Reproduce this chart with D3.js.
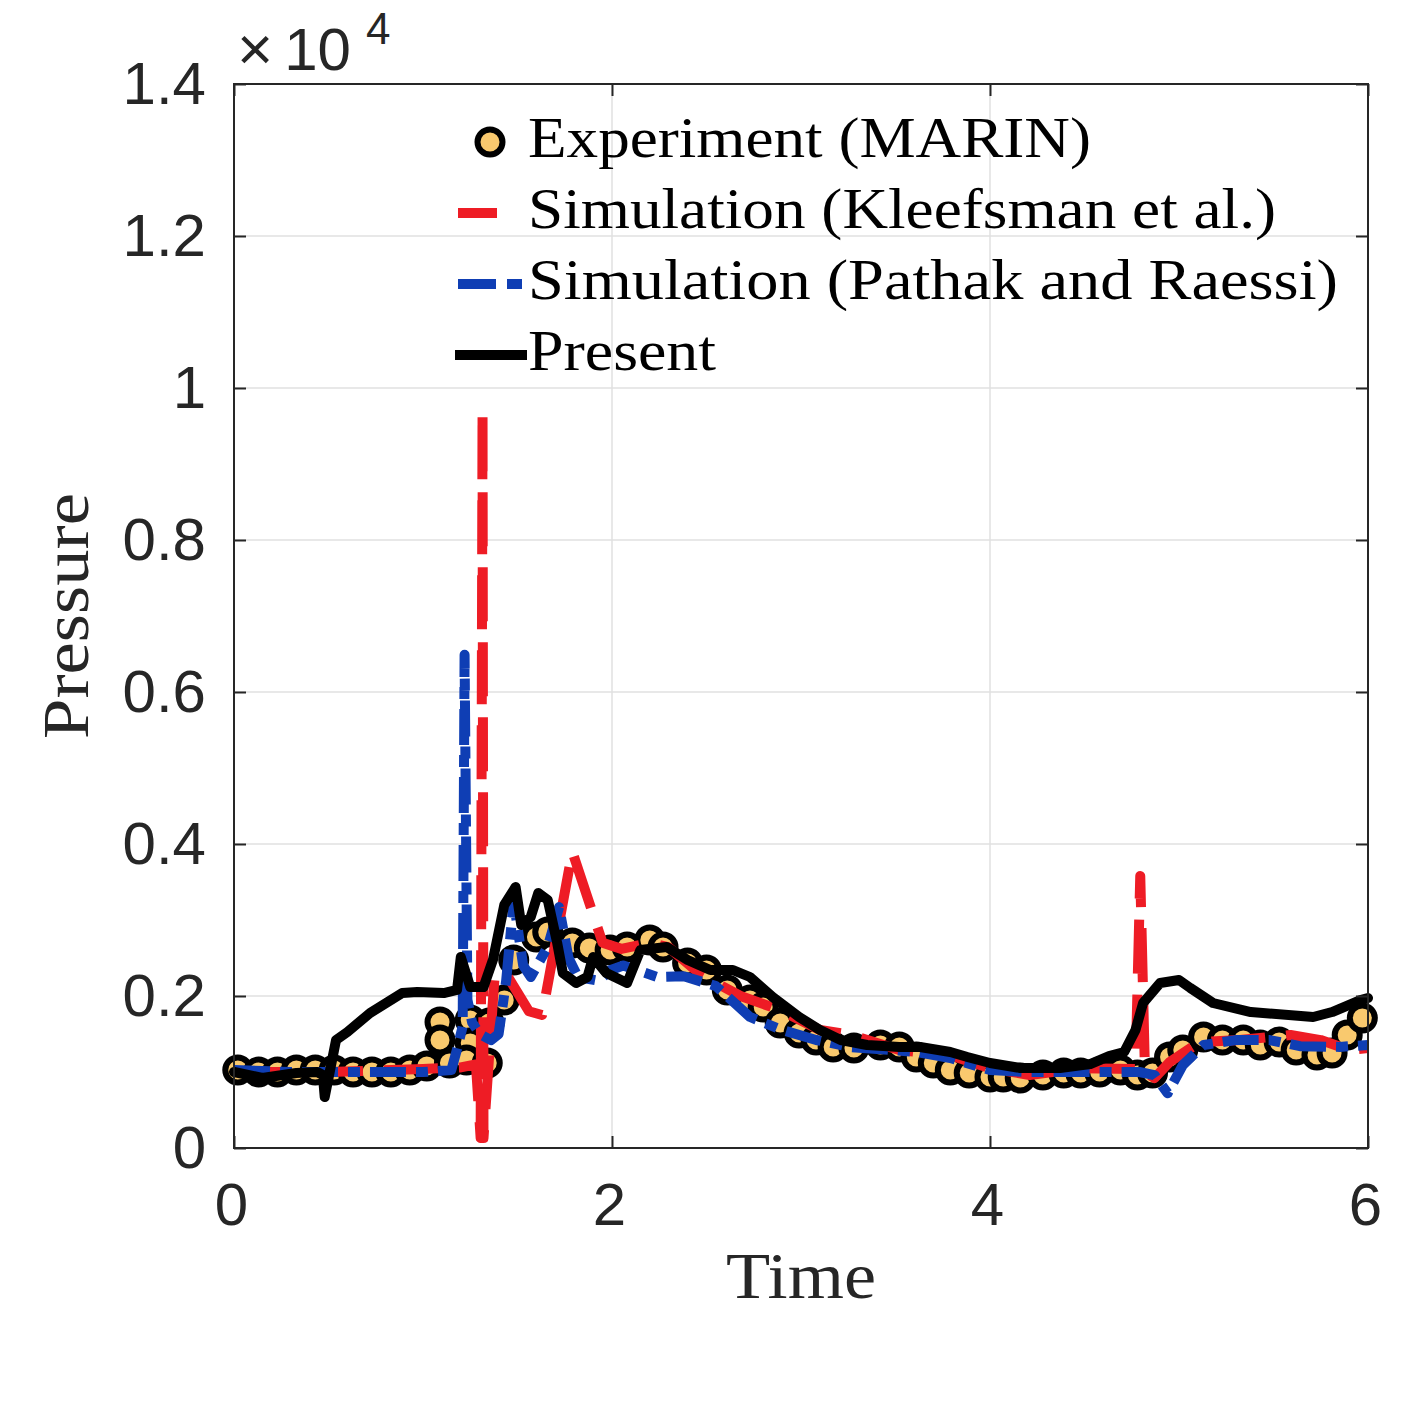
<!DOCTYPE html>
<html>
<head>
<meta charset="utf-8">
<script src="https://cdn.jsdelivr.net/npm/d3@7"></script>
<style>
  html, body { margin: 0; padding: 0; background: #fff; }
  svg { display: block; }
</style>
</head>
<body>
<svg id="chart" width="1417" height="1417"></svg>
<script>
// ---- DATA ----
// experiment (MARIN), pressure in Pa
const expTime = [0.02, 0.13, 0.23, 0.33, 0.43, 0.53, 0.63, 0.73, 0.83, 0.93, 1.02,
  1.09, 1.09, 1.14, 1.25, 1.25, 1.23, 1.34, 1.35, 1.43, 1.48, 1.60, 1.66, 1.79, 1.88,
  1.99, 2.08, 2.20, 2.27, 2.40, 2.50, 2.61, 2.73, 2.80, 2.89, 2.99, 3.08, 3.17, 3.28,
  3.42, 3.52, 3.61, 3.70, 3.79, 3.89, 4.00, 4.07, 4.16, 4.28, 4.39, 4.48, 4.58, 4.69,
  4.78, 4.86, 4.95, 5.02, 5.13, 5.23, 5.34, 5.43, 5.53, 5.62, 5.73, 5.81, 5.89, 5.97];
const expPressure = [1026, 1000, 1000, 1026, 1026, 1026, 1000, 1000, 1000, 1026, 1080,
  1658, 1421, 1118, 1684, 1382, 1158, 1118, 1645, 1947, 2474, 2776, 2842, 2697, 2632,
  2605, 2645, 2737, 2645, 2434, 2342, 2079, 1947, 1855, 1645, 1513, 1421, 1329, 1316,
  1355, 1329, 1197, 1118, 1026, 987, 934, 934, 921, 961, 987, 987, 1000, 1026,
  961, 987, 1197, 1289, 1461, 1421, 1421, 1355, 1395, 1289, 1224, 1250, 1487, 1711];

// simulation (Kleefsman et al.)
const kleefTime = [0.00, 0.50, 1.00, 1.20, 1.28, 1.305, 1.315, 1.32, 1.38, 1.45, 1.56,
  1.63, 1.79, 1.95, 2.05, 2.20, 2.30, 2.47, 2.68, 2.89, 3.10, 3.26, 3.52, 3.79, 4.00,
  4.21, 4.48, 4.77, 4.795, 4.82, 4.87, 4.95, 5.11, 5.32, 5.59, 5.75, 5.90, 6.00];
const kleefPressure = [1000, 1000, 1040, 1060, 1100, 130, 9700, 130, 2300, 2250, 1800,
  1750, 3900, 2700, 2620, 2700, 2640, 2280, 2000, 1815, 1553, 1490, 1290, 1220, 1050,
  960, 1050, 1040, 3580, 1000, 920, 1130, 1395, 1420, 1487, 1420, 1290, 1316];

// simulation (Pathak and Raessi)
const pathakTime = [0.00, 0.30, 0.60, 1.00, 1.15, 1.18, 1.21, 1.22, 1.235, 1.26, 1.30,
  1.36, 1.40, 1.44, 1.48, 1.53, 1.57, 1.66, 1.72, 1.77, 1.82, 1.93, 1.99, 2.06, 2.24,
  2.38, 2.55, 2.73, 2.90, 3.08, 3.26, 3.61, 3.79, 4.00, 4.20, 4.50, 4.79, 4.87, 4.94,
  5.02, 5.13, 5.30, 5.48, 5.64, 5.85, 6.00];
const pathakPressure = [1026, 1000, 1000, 1000, 1026, 1300, 1600, 6490, 1950, 1650, 1500,
  1420, 1500, 2200, 3250, 2400, 2250, 2650, 3170, 2500, 2250, 2200, 2340, 2400, 2250,
  2260, 2130, 1724, 1553, 1421, 1329, 1263, 1184, 1026, 1000, 1000, 1000, 960, 720,
  1090, 1355, 1420, 1420, 1340, 1330, 1355];

// present
const presentTime = [0.00, 0.15, 0.33, 0.44, 0.47, 0.48, 0.54, 0.60, 0.72, 0.89, 0.97,
  1.11, 1.18, 1.20, 1.25, 1.32, 1.37, 1.43, 1.49, 1.52, 1.57, 1.61, 1.66, 1.71, 1.74,
  1.81, 1.87, 1.90, 1.97, 2.08, 2.15, 2.29, 2.40, 2.52, 2.64, 2.73, 2.85, 2.99, 3.10,
  3.21, 3.35, 3.52, 3.63, 3.79, 3.88, 4.00, 4.16, 4.37, 4.53, 4.63, 4.71, 4.77, 4.81,
  4.90, 5.00, 5.06, 5.18, 5.38, 5.71, 5.81, 5.96, 6.00];
const presentPressure = [1000, 921, 987, 1000, 961, 671, 1421, 1526, 1776, 2039, 2053,
  2039, 2079, 2513, 2118, 2118, 2474, 3197, 3434, 2934, 3039, 3355, 3263, 2697, 2303,
  2171, 2250, 2513, 2303, 2171, 2605, 2645, 2474, 2342, 2342, 2250, 1987, 1724, 1553,
  1421, 1355, 1329, 1329, 1263, 1197, 1118, 1053, 1053, 1105, 1210, 1263, 1553, 1908,
  2171, 2211, 2105, 1908, 1789, 1724, 1789, 1947, 1974];

const xTicks = [0, 2, 4, 6];
const yTicks = [0, 2000, 4000, 6000, 8000, 10000, 12000, 14000];
const legendLabels = ["Experiment (MARIN)", "Simulation (Kleefsman et al.)",
  "Simulation (Pathak and Raessi)", "Present"];

// ---- LAYOUT ----
const svg = d3.select("#chart");
const margin = { left: 234, right: 1368, top: 84, bottom: 1148 };
const axisColor = "#262626";
const sansFont = "'Liberation Sans', Arial, Helvetica, sans-serif";
const serifFont = "'Liberation Serif', 'Times New Roman', serif";
const markerFill = "#F9C96E";

const x = d3.scaleLinear().domain([0, 6]).range([margin.left, margin.right]);
const y = d3.scaleLinear().domain([0, 14000]).range([margin.bottom, margin.top]);

// grid
const gridG = svg.append("g").attr("stroke", "#e0e0e0").attr("stroke-width", 1.5);
gridG.selectAll("line.gx")
  .data(xTicks.slice(1, -1))
  .join("line")
  .attr("x1", d => x(d)).attr("x2", d => x(d))
  .attr("y1", margin.top).attr("y2", margin.bottom);
gridG.selectAll("line.gy")
  .data(yTicks.slice(1, -1))
  .join("line")
  .attr("y1", d => y(d)).attr("y2", d => y(d))
  .attr("x1", margin.left).attr("x2", margin.right);

// ---- SERIES ----
const zip = (ts, ps) => ts.map((t, i) => [t, ps[i]]);
const line = d3.line().x(d => x(d[0])).y(d => y(d[1]));

svg.append("g")
  .selectAll("circle")
  .data(zip(expTime, expPressure))
  .join("circle")
  .attr("cx", d => x(d[0]))
  .attr("cy", d => y(d[1]))
  .attr("r", 12.5)
  .attr("fill", markerFill)
  .attr("stroke", "#000")
  .attr("stroke-width", 6);

svg.append("path")
  .datum(zip(kleefTime, kleefPressure))
  .attr("d", line)
  .attr("fill", "none")
  .attr("stroke", "#EE1C25")
  .attr("stroke-width", 10)
  .attr("stroke-dasharray", "54,21")
  .attr("stroke-linejoin", "round");

svg.append("path")
  .datum(zip(pathakTime, pathakPressure))
  .attr("d", line)
  .attr("fill", "none")
  .attr("stroke", "#0F3EB4")
  .attr("stroke-width", 10)
  .attr("stroke-dasharray", "36,10,12,10")
  .attr("stroke-linejoin", "round");

svg.append("path")
  .datum(zip(presentTime, presentPressure))
  .attr("d", line)
  .attr("fill", "none")
  .attr("stroke", "#000")
  .attr("stroke-width", 10)
  .attr("stroke-linejoin", "round")
  .attr("stroke-linecap", "round");

// ---- AXES ----
function styleAxis(g) {
  g.select(".domain").remove();
  g.selectAll(".tick line").attr("stroke", axisColor).attr("stroke-width", 2);
  g.selectAll(".tick text")
    .attr("fill", axisColor)
    .attr("font-family", sansFont)
    .attr("font-size", 60);
}

svg.append("g")
  .attr("transform", `translate(0,${margin.bottom})`)
  .call(d3.axisBottom(x).tickValues(xTicks).tickSize(-12).tickPadding(34).tickFormat(d3.format("d")))
  .call(styleAxis)
  .selectAll(".tick text").attr("dx", -3);
svg.append("g")
  .attr("transform", `translate(0,${margin.top})`)
  .call(d3.axisTop(x).tickValues(xTicks).tickSize(-12).tickFormat(""))
  .call(styleAxis);
svg.append("g")
  .attr("transform", `translate(${margin.left},0)`)
  .call(d3.axisLeft(y).tickValues(yTicks).tickSize(-12).tickPadding(28)
    .tickFormat(d => String(+(d / 1e4).toFixed(1))))
  .call(styleAxis);
svg.append("g")
  .attr("transform", `translate(${margin.right},0)`)
  .call(d3.axisRight(y).tickValues(yTicks).tickSize(-12).tickFormat(""))
  .call(styleAxis);

// box
svg.append("rect")
  .attr("x", margin.left).attr("y", margin.top)
  .attr("width", margin.right - margin.left)
  .attr("height", margin.bottom - margin.top)
  .attr("fill", "none")
  .attr("stroke", axisColor)
  .attr("stroke-width", 2);

// exponent label
const expo = svg.append("text")
  .attr("x", 237).attr("y", 70)
  .attr("fill", axisColor)
  .attr("font-family", sansFont)
  .attr("font-size", 60);
expo.append("tspan").text("\u00d7").attr("font-size", 62);
expo.append("tspan").text("10").attr("dx", 11);
const supG = svg.append("text")
  .attr("x", 366).attr("y", 44)
  .attr("fill", axisColor)
  .attr("font-family", sansFont)
  .attr("font-size", 44)
  .text("4");

// axis labels
svg.append("text")
  .attr("x", (margin.left + margin.right) / 2)
  .attr("y", 1298)
  .attr("text-anchor", "middle")
  .attr("font-family", serifFont)
  .attr("font-size", 66)
  .attr("fill", axisColor)
  .attr("textLength", 150)
  .attr("lengthAdjust", "spacingAndGlyphs")
  .text("Time");

svg.append("text")
  .attr("transform", `translate(88,${(margin.top + margin.bottom) / 2}) rotate(-90)`)
  .attr("text-anchor", "middle")
  .attr("font-family", serifFont)
  .attr("font-size", 66)
  .attr("fill", axisColor)
  .attr("textLength", 246)
  .attr("lengthAdjust", "spacingAndGlyphs")
  .text("Pressure");

// ---- LEGEND ----
const legend = svg.append("g");
const rowY = [142, 213, 284, 355];
const textEnds = [1091, 1276, 1338, 716];
const textX = 528;

legend.append("circle")
  .attr("cx", 490).attr("cy", rowY[0])
  .attr("r", 12.5)
  .attr("fill", markerFill)
  .attr("stroke", "#000")
  .attr("stroke-width", 6);

legend.append("line")
  .attr("x1", 453).attr("x2", 527)
  .attr("y1", rowY[1]).attr("y2", rowY[1])
  .attr("stroke", "#EE1C25").attr("stroke-width", 10)
  .attr("stroke-dasharray", "0,5,39,100");

legend.append("line")
  .attr("x1", 453).attr("x2", 527)
  .attr("y1", rowY[2]).attr("y2", rowY[2])
  .attr("stroke", "#0F3EB4").attr("stroke-width", 10)
  .attr("stroke-dasharray", "0,5,38,11,15,100");

legend.append("line")
  .attr("x1", 455).attr("x2", 527)
  .attr("y1", rowY[3]).attr("y2", rowY[3])
  .attr("stroke", "#000").attr("stroke-width", 10);

legend.selectAll("text")
  .data(legendLabels)
  .join("text")
  .attr("x", textX)
  .attr("y", (d, i) => rowY[i] + 15)
  .attr("font-family", serifFont)
  .attr("font-size", 56)
  .attr("fill", "#000")
  .attr("textLength", (d, i) => textEnds[i] - textX)
  .attr("lengthAdjust", "spacingAndGlyphs")
  .text(d => d);
</script>
</body>
</html>
